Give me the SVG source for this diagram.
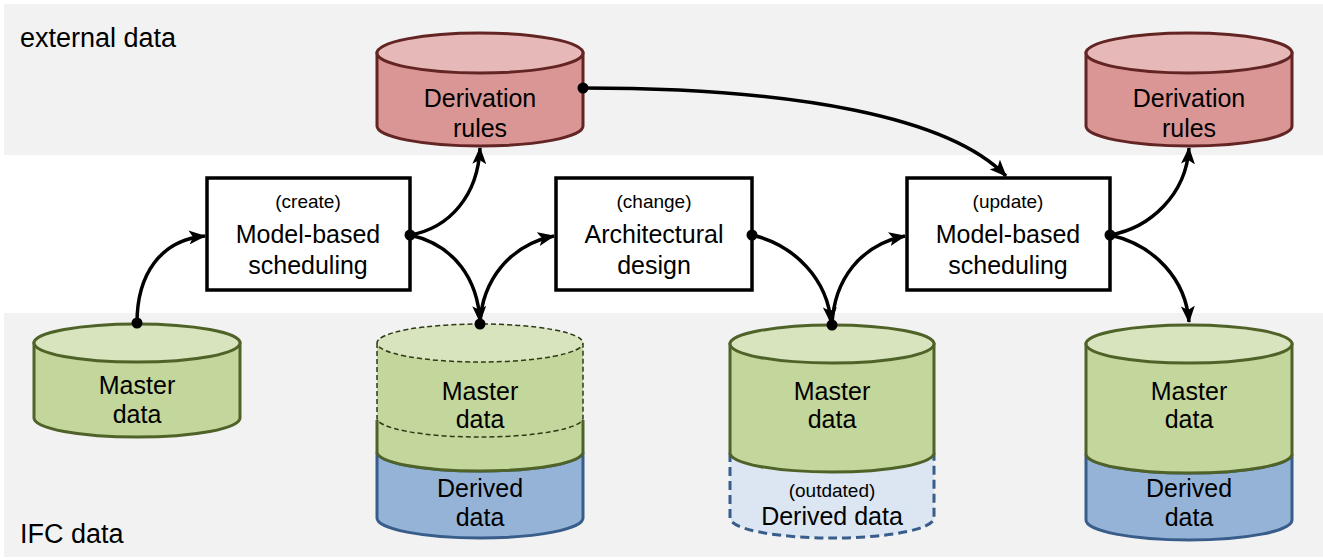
<svg xmlns="http://www.w3.org/2000/svg" width="1323" height="560" viewBox="0 0 1323 560">
<defs>
<marker id="arr" markerUnits="userSpaceOnUse" markerWidth="18" markerHeight="14" refX="16" refY="7" orient="auto">
<path d="M0,0 L17,7 L0,14 L4,7 Z" fill="#000"/>
</marker>
<style>
text{font-family:"Liberation Sans",Arial,sans-serif;fill:#000;text-anchor:middle}
.lbl{font-size:27px;text-anchor:start}
.t{font-size:25px}
.s{font-size:19px}
.box{fill:#fff;stroke:#000;stroke-width:3.5}
.redB{fill:#d99694;stroke:#632523;stroke-width:3}
.redT{fill:#e6b9b8;stroke:#632523;stroke-width:3}
.grB{fill:#c3d69b;stroke:#4f6228;stroke-width:3}
.grT{fill:#d7e4bd;stroke:#4f6228;stroke-width:3}
.blB{fill:#95b3d7;stroke:#385d8a;stroke-width:3}
.con{fill:none;stroke:#000;stroke-width:3.5;marker-end:url(#arr)}
.dot{fill:#000}
</style>
</defs>
<rect x="4" y="4" width="1319" height="151" fill="#f2f2f2"/>
<rect x="4" y="313" width="1319" height="244" fill="#f2f2f2"/>
<text class="lbl" x="20" y="47">external data</text>
<text class="lbl" x="20" y="543">IFC data</text>

<g id="rules1">
<path class="redB" d="M377,53 L377,126 A103,20 0 0 0 583,126 L583,53 Z"/>
<ellipse class="redT" cx="480" cy="53" rx="103" ry="20"/>
<text class="t" x="480" y="107">Derivation</text>
<text class="t" x="480" y="137">rules</text>
</g>
<g id="rules2">
<path class="redB" d="M1086,53 L1086,126 A103,20 0 0 0 1292,126 L1292,53 Z"/>
<ellipse class="redT" cx="1189" cy="53" rx="103" ry="20"/>
<text class="t" x="1189" y="107">Derivation</text>
<text class="t" x="1189" y="137">rules</text>
</g>

<g id="master1">
<path class="grB" d="M34,343 L34,418 A103,19 0 0 0 240,418 L240,343 Z"/>
<ellipse class="grT" cx="137" cy="343" rx="103" ry="19"/>
<text class="t" x="137" y="394">Master</text>
<text class="t" x="137" y="423">data</text>
</g>

<g id="store2">
<path class="blB" d="M377,452 A103,19 0 0 0 583,452 L583,518 A103,20 0 0 1 377,518 Z"/>
<path d="M377,343 L377,452 A103,19 0 0 0 583,452 L583,343 Z" fill="#c3d69b"/>
<ellipse cx="480" cy="343" rx="103" ry="19" fill="#d7e4bd"/>
<path d="M377,420 L377,452 A103,19 0 0 0 583,452 L583,420" fill="none" stroke="#4f6228" stroke-width="3"/>
<path d="M377,343 L377,418 A103,19 0 0 0 583,418 L583,343 A103,19 0 0 0 377,343 A103,19 0 0 0 583,343" fill="none" stroke="#2e3a17" stroke-width="1.5" stroke-dasharray="5,3"/>
<text class="t" x="480" y="400">Master</text>
<text class="t" x="480" y="428">data</text>
<text class="t" x="480" y="497">Derived</text>
<text class="t" x="480" y="526">data</text>
</g>

<g id="store3">
<path d="M730,453 A102,19 0 0 0 934,453 L934,518 A102,20 0 0 1 730,518 Z" fill="#dce6f2"/>
<path d="M730,453 L730,518 A102,20 0 0 0 934,518 L934,453" fill="none" stroke="#385d8a" stroke-width="3" stroke-dasharray="9,5"/>
<path class="grB" d="M730,344 L730,453 A102,19 0 0 0 934,453 L934,344 Z"/>
<ellipse class="grT" cx="832" cy="344" rx="102" ry="19"/>
<text class="t" x="832" y="400">Master</text>
<text class="t" x="832" y="428">data</text>
<text class="s" x="832" y="497">(outdated)</text>
<text class="t" x="832" y="525">Derived data</text>
</g>

<g id="store4">
<path class="blB" d="M1086,454 A103,19 0 0 0 1292,454 L1292,520 A103,20 0 0 1 1086,520 Z"/>
<path class="grB" d="M1086,344 L1086,454 A103,19 0 0 0 1292,454 L1292,344 Z"/>
<ellipse class="grT" cx="1189" cy="344" rx="103" ry="19"/>
<text class="t" x="1189" y="400">Master</text>
<text class="t" x="1189" y="428">data</text>
<text class="t" x="1189" y="497">Derived</text>
<text class="t" x="1189" y="526">data</text>
</g>

<g id="box1">
<rect class="box" x="207" y="178" width="203" height="112"/>
<text class="s" x="308" y="208">(create)</text>
<text class="t" x="308" y="243">Model-based</text>
<text class="t" x="308" y="274">scheduling</text>
</g>
<g id="box2">
<rect class="box" x="556" y="178" width="196" height="112"/>
<text class="s" x="654" y="208">(change)</text>
<text class="t" x="654" y="243">Architectural</text>
<text class="t" x="654" y="274">design</text>
</g>
<g id="box3">
<rect class="box" x="907" y="178" width="203" height="112"/>
<text class="s" x="1008" y="208">(update)</text>
<text class="t" x="1008" y="243">Model-based</text>
<text class="t" x="1008" y="274">scheduling</text>
</g>

<g id="connectors">
<path class="con" d="M137,323 C137,275 160,240 205,236"/>
<path class="con" d="M410,235 C450,228 478,195 480,148"/>
<path class="con" d="M410,235 C455,245 478,280 480,322"/>
<path class="con" d="M480,324 C482,280 510,245 554,236"/>
<path class="con" d="M752,235 C795,245 828,280 831,323"/>
<path class="con" d="M832,325 C834,280 860,245 905,236"/>
<path class="con" d="M583,88 C800,88 950,118 1006,176"/>
<path class="con" d="M1110,235 C1150,228 1186,195 1189,148"/>
<path class="con" d="M1110,235 C1155,245 1186,280 1189,322"/>
<circle class="dot" cx="137" cy="323" r="5.5"/>
<circle class="dot" cx="410" cy="235" r="5.5"/>
<circle class="dot" cx="480" cy="324" r="5.5"/>
<circle class="dot" cx="752" cy="235" r="5.5"/>
<circle class="dot" cx="832" cy="325" r="5.5"/>
<circle class="dot" cx="583" cy="88" r="5.5"/>
<circle class="dot" cx="1110" cy="235" r="5.5"/>
</g>
</svg>
